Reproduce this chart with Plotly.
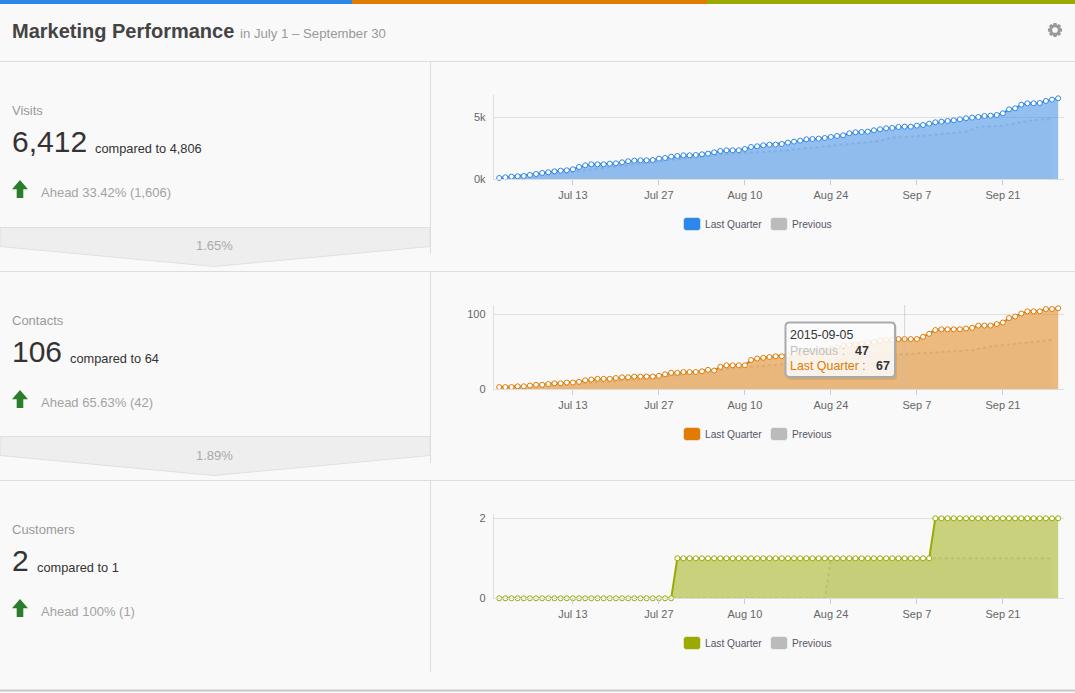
import math
import pandas as pd
import plotly.graph_objects as go

W, H = 1075, 693
dates = pd.date_range("2015-07-01", "2015-09-30").strftime("%Y-%m-%d").tolist()
tick_dates = ["2015-07-13", "2015-07-27", "2015-08-10", "2015-08-24", "2015-09-07", "2015-09-21"]
tick_labels = ["Jul 13", "Jul 27", "Aug 10", "Aug 24", "Sep 7", "Sep 21"]

visits_last = [108,161,215,242,269,349,430,511,564,645,699,726,806,995,1129,1210,1210,1210,1263,1290,
               1371,1452,1505,1532,1532,1559,1667,1720,1828,1882,1935,1935,1962,2016,2070,2177,2285,2339,2339,2339,
               2446,2607,2661,2742,2796,2796,2849,2957,3037,3118,3226,3252,3279,3333,3414,3494,3548,3709,3790,3817,
               3844,3951,4032,4113,4140,4220,4247,4247,4328,4381,4489,4596,4650,4704,4758,4838,4919,4973,5027,5107,
               5134,5188,5322,5645,5725,6021,6129,6129,6156,6317,6424,6532]
visits_prev = [70,120,170,200,230,270,300,340,390,430,480,530,590,690,760,820,870,920,970,1030,
               1080,1130,1190,1250,1310,1380,1460,1530,1600,1650,1710,1760,1810,1880,1930,1990,2030,2060,2080,2090,
               2100,2130,2170,2210,2240,2260,2310,2360,2420,2470,2530,2580,2630,2680,2720,2770,2830,2880,2920,2970,
               3020,3050,3100,3230,3360,3390,3410,3440,3470,3510,3560,3600,3630,3680,3720,3790,3840,4030,4220,4250,
               4280,4300,4330,4430,4540,4650,4700,4760,4810,4870,4920]
contacts_last = [3,3,3,4,4,5,6,6,7,8,8,9,9,10,12,13,14,14,14,15,
                 16,16,17,17,17,17,18,20,22,22,23,23,23,24,26,25,30,32,32,32,
                 32,39,41,42,43,44,44,45,47,48,50,51,52,53,54,56,58,59,60,61,
                 62,63,65,66,66,67,67,67,67,70,74,79,80,80,80,80,81,82,85,85,
                 85,87,89,95,97,101,104,104,104,107,107,108]
contacts_prev = [1,1,1,2,2,3,3,4,4,5,5,6,7,7,8,9,9,10,10,11,
                 12,12,13,13,14,14,15,16,17,18,19,20,21,22,23,24,25,26,28,29,
                 30,30,30,31,32,33,33,34,34,34,35,36,37,38,39,40,41,42,43,44,
                 44,45,46,46,46,47,47,47,48,48,49,49,50,50,51,51,52,52,54,56,
                 57,58,59,59,60,61,62,63,64,65,66]
customers_last = [0,0,0,0,0,0,0,0,0,0,0,0,0,0,0,0,0,0,0,0,0,0,0,0,0,0,0,0,0,
                  1,1,1,1,1,1,1,1,1,1,1,1,1,1,1,1,1,1,1,1,1,1,1,1,1,1,1,1,1,1,1,1,1,1,1,1,1,1,1,1,1,1,
                  2,2,2,2,2,2,2,2,2,2,2,2,2,2,2,2,2,2,2,2,2]
customers_prev = [0,0,0,0,0,0,0,0,0,0,0,0,0,0,0,0,0,0,0,0,0,0,0,0,0,0,0,0,0,0,0,0,0,0,0,0,0,0,0,0,0,0,0,0,0,0,0,0,0,0,0,0,0,0,
                  1,1,1,1,1,1,1,1,1,1,1,1,1,1,1,1,1,1,1,1,1,1,1,1,1,1,1,1,1,1,1,1,1,1,1,1,1]

panels = [
    dict(name="Visits", big="6,412", cmp="compared to 4,806", cmp_x=95, ahead="Ahead 33.42% (1,606)",
         last=visits_last, prev=visits_prev, color="#2e86e8", fill="rgba(46,134,232,0.5)",
         top=95, zero=179.3, ymax=6798, ticks=[0, 5000], labels=["0k", "5k"], label_y=110),
    dict(name="Contacts", big="106", cmp="compared to 64", cmp_x=70, ahead="Ahead 65.63% (42)",
         last=contacts_last, prev=contacts_prev, color="#e07b05", fill="rgba(224,123,5,0.5)",
         top=305, zero=389.3, ymax=112.4, ticks=[0, 100], labels=["0", "100"], label_y=320),
    dict(name="Customers", big="2", cmp="compared to 1", cmp_x=37, ahead="Ahead 100% (1)",
         last=customers_last, prev=customers_prev, color="#9aaa00", fill="rgba(154,170,0,0.5)",
         top=514, zero=598.3, ymax=2.1075, ticks=[0, 2], labels=["0", "2"], label_y=529),
]

FONT = "Liberation Sans"
fx = lambda p: p / W
fy = lambda p: 1 - p / H
fig = go.Figure()
shapes, notes = [], []


def T(x, y, text, size, color, bold=False, anchor="left", family=FONT):
    if bold:
        text = "<b>" + text + "</b>"
    notes.append(dict(x=fx(x), y=fy(y), xref="paper", yref="paper", text=text, showarrow=False,
                      xanchor=anchor, yanchor="middle", borderpad=0, borderwidth=0,
                      font=dict(family=family, size=size, color=color)))


def path(points, fill, line=None, width=1):
    d = "M" + " L".join(f"{fx(a):.5f},{fy(b):.5f}" for a, b in points) + " Z"
    shapes.append(dict(type="path", path=d, xref="paper", yref="paper", fillcolor=fill,
                       line=dict(color=line or fill, width=width if line else 0), layer="below"))


def rrect(x0, y0, x1, y1, r, fill, line=None, width=1, layer="above"):
    ax = lambda p: f"{fx(p):.5f}"
    ay = lambda p: f"{fy(p):.5f}"
    d = (f"M{ax(x0+r)},{ay(y0)} L{ax(x1-r)},{ay(y0)} Q{ax(x1)},{ay(y0)} {ax(x1)},{ay(y0+r)} "
         f"L{ax(x1)},{ay(y1-r)} Q{ax(x1)},{ay(y1)} {ax(x1-r)},{ay(y1)} L{ax(x0+r)},{ay(y1)} "
         f"Q{ax(x0)},{ay(y1)} {ax(x0)},{ay(y1-r)} L{ax(x0)},{ay(y0+r)} Q{ax(x0)},{ay(y0)} {ax(x0+r)},{ay(y0)} Z")
    shapes.append(dict(type="path", path=d, xref="paper", yref="paper", fillcolor=fill,
                       line=dict(color=line or fill, width=width if line else 0), layer=layer))


def hline(x0, x1, y, color="#dddddd", width=1):
    shapes.append(dict(type="line", x0=fx(x0), x1=fx(x1), y0=fy(y), y1=fy(y), xref="paper", yref="paper",
                       line=dict(color=color, width=width), layer="below"))


def vline(x, y0, y1, color="#dddddd", width=1):
    shapes.append(dict(type="line", x0=fx(x), x1=fx(x), y0=fy(y0), y1=fy(y1), xref="paper", yref="paper",
                       line=dict(color=color, width=width), layer="below"))


# page furniture
path([(0, 0), (352, 0), (352, 4), (0, 4)], "#2e86e8")
path([(352, 0), (707, 0), (707, 4), (352, 4)], "#e07b05")
path([(707, 0), (1075, 0), (1075, 4), (707, 4)], "#9aaa00")
hline(0, W, 61.5)
hline(0, W, 271.5)
hline(0, W, 480.5)
hline(0, W, 690.5, "#c8c8c8", 2)
vline(430.5, 62, 254)
vline(430.5, 272, 463)
vline(430.5, 481, 672)
T(12, 31, "Marketing Performance", 20, "#444444", bold=True)
T(240, 33.5, "in July 1 – September 30", 13.2, "#999999")

# gear icon
gear = []
for k in range(8):
    c = k * math.pi / 4
    for da, r in [(-0.42, 5.2), (-0.2, 7.2), (0.2, 7.2), (0.42, 5.2)]:
        gear.append((1055 + r * math.cos(c + da), 30 + r * math.sin(c + da)))
path(gear, "#999999")
rrect(1052.2, 27.2, 1057.8, 32.8, 2.8, "#f9f9f9", layer="below")

for y0, pct in [(227.5, "1.65%"), (436.5, "1.89%")]:
    path([(0, y0), (430, y0), (430, y0 + 19), (214, y0 + 39), (0, y0 + 19)], "#eeeeee", "#e0e0e0")
    T(214, y0 + 18.5, pct, 13, "#aaaaaa", anchor="center")

# x scale: plot area runs from 493.7 to 1063.7 px
xrange_ = ["2015-06-30 02:30", "2015-09-30 21:36"]

for i, p in enumerate(panels, start=1):
    ax_x, ax_y = f"x{i}", f"y{i}"
    fig.add_trace(go.Scatter(x=dates[:len(p["prev"])], y=p["prev"], xaxis=ax_x, yaxis=ax_y, mode="lines",
                             line=dict(color="rgba(170,170,170,0.38)", width=2, dash="dot"), fill="tozeroy",
                             fillcolor="rgba(187,187,187,0.1)", showlegend=False, hoverinfo="skip",
                             cliponaxis=False))
    fig.add_trace(go.Scatter(x=dates[:len(p["last"])], y=p["last"], xaxis=ax_x, yaxis=ax_y, mode="lines+markers",
                             line=dict(color=p["color"], width=2), fill="tozeroy", fillcolor=p["fill"],
                             marker=dict(symbol="circle", size=5, color="#ffffff",
                                         line=dict(color=p["color"], width=1)),
                             showlegend=False, hoverinfo="skip", cliponaxis=False))
    fig.update_layout({
        f"xaxis{i}": dict(domain=[493.7 / W, 1063.7 / W], range=xrange_, anchor=ax_y, type="date", automargin=False,
                          tickvals=tick_dates, ticktext=tick_labels, ticks="outside", ticklen=5, tickwidth=1,
                          tickcolor="#c0d0e0", showline=True, linecolor="#dddddd", linewidth=1, showgrid=False,
                          zeroline=False, tickfont=dict(family=FONT, size=11, color="#666666")),
        f"yaxis{i}": dict(domain=[fy(p["zero"]), fy(p["top"])], range=[0, p["ymax"]], anchor=ax_x, automargin=False,
                          tickvals=p["ticks"], ticktext=p["labels"], ticks="", showline=True, ticklabelstandoff=5,
                          linecolor="#dddddd", linewidth=1, gridcolor="#e0e0e0", gridwidth=1, zeroline=False,
                          tickfont=dict(family=FONT, size=11, color="#666666")),
    })
    ly = p["label_y"]
    T(12, ly, p["name"], 13, "#999999")
    T(12, ly + 31.5, p["big"], 30, "#333333")
    T(p["cmp_x"], ly + 38.5, p["cmp"], 12.8, "#333333")
    T(41, ly + 82.5, p["ahead"], 13, "#a3a3a3")
    a = ly + 70
    path([(20, a), (28, a + 9.3), (23.3, a + 9.3), (23.3, a + 18), (16.7, a + 18), (16.7, a + 9.3), (12, a + 9.3)],
         "#2a7d2a")
    # legend swatches
    rrect(683.5, ly + 107.5, 700.5, ly + 120.5, 3, p["color"], "rgba(255,255,255,0.5)")
    rrect(770.5, ly + 107.5, 787.5, ly + 120.5, 3, "#bbbbbb", "rgba(255,255,255,0.5)")
    T(705, ly + 114.5, "Last Quarter", 10.2, "#555566")
    T(792, ly + 114.5, "Previous", 10.2, "#555566")

# tooltip, as captured in the reference
shapes.append(dict(type="line", x0="2015-09-05", x1="2015-09-05", y0=0, y1=112.4, xref="x2", yref="y2",
                   line=dict(color="rgba(190,190,190,0.6)", width=1), layer="above"))
rrect(787, 324, 897, 380, 4, "rgba(0,0,0,0.08)")
rrect(785.5, 322.5, 895, 377, 4, "rgba(255,255,255,0.85)", "#aaaaaa", 2)
T(790, 335, "2015-09-05", 12.4, "#333333")
T(790, 351, "Previous :", 12.4, "#c0c0c0")
T(855, 351, "47", 12.4, "#333333", bold=True)
T(790, 366, "Last Quarter :", 12.4, "#e07b05")
T(876, 366, "67", 12.4, "#333333", bold=True)

fig.update_layout(width=W, height=H, margin=dict(l=0, r=0, t=0, b=0, pad=0), autosize=False,
                  paper_bgcolor="#f9f9f9", plot_bgcolor="rgba(0,0,0,0)", shapes=shapes, annotations=notes,
                  font=dict(family=FONT))
fig.write_html("out.html", config={"displayModeBar": False, "responsive": False},
               post_script="document.body.style.margin='0';document.body.style.background='#f9f9f9';"
                           "document.documentElement.style.overflow='hidden';")
